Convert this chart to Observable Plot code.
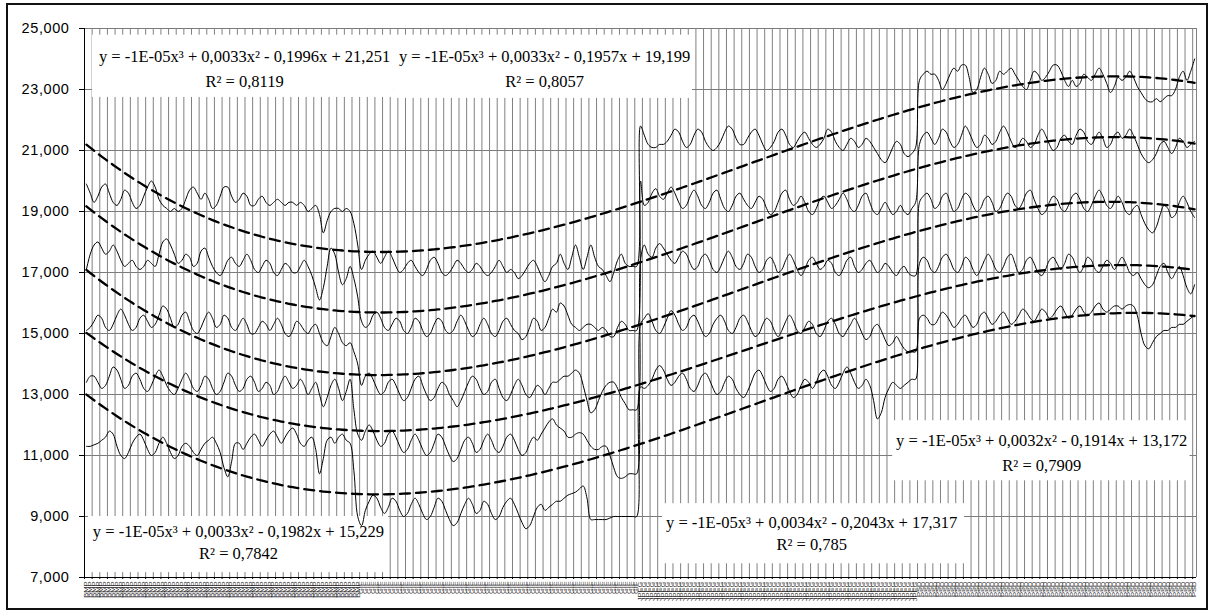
<!DOCTYPE html>
<html><head><meta charset="utf-8">
<script src="https://cdn.jsdelivr.net/npm/d3@7"></script>
<script src="https://cdn.jsdelivr.net/npm/@observablehq/plot@0.6"></script>
<style>
body{margin:0;background:#fff;}
#wrap{position:relative;width:1208px;height:612px;overflow:hidden;background:#fff;}
#wrap svg{position:absolute;left:0;top:0;}
#frame{position:absolute;left:6px;top:3px;width:1198px;height:603px;border:2px solid #111;pointer-events:none;}
</style></head><body><div id="wrap"><div id="frame"></div></div>
<script>
const formats = ["BMP","GIF","JPEG","PSD"];
const counts = [72,73,73,73];
const yTicks = [7,9,11,13,15,17,19,21,23,25];

// Series 1 (top)
const s1BMP = [19.9,19.6,19.3,19.5,19.8,19.9,19.6,19.3,19.2,19.4,19.7,19.6,19.3,19.1,19.2,19.5,19.8,20.0,19.8,19.4,19.2,19.1,19.0,19.1,19.0,19.1,19.4,19.7,19.8,19.6,19.4,19.6,19.4,19.1,19.2,19.5,19.8,19.8,19.5,19.3,19.4,19.6,19.5,19.2,19.2,19.4,19.5,19.3,19.2,19.3,19.4,19.3,19.2,19.3,19.3,19.2,19.3,19.2,19.0,19.1,19.2,18.9,18.3,18.7,19.0,19.1,19.1,19.0,19.1,19.0,18.6,17.9];
const s1GIF = [17.1,17.4,17.6,17.7,17.5,17.3,17.5,17.7,17.5,17.2,17.0,17.1,17.3,17.4,17.2,17.0,16.9,17.1,17.4,17.5,17.3,17.0,16.9,17.0,17.2,17.4,17.3,17.1,17.0,17.1,17.3,17.2,17.0,16.9,17.0,17.2,17.4,17.2,17.0,17.1,17.0,16.8,16.9,17.1,17.3,17.4,17.2,16.9,16.7,16.9,17.2,17.3,17.6,17.3,17.1,17.5,17.9,17.5,17.1,17.5,17.9,17.5,17.2,17.1,16.9,16.7,17.0,17.4,17.6,17.3,17.2,17.2,17.2];
const s1JPEG = [21.8,21.5,21.2,21.1,21.1,21.2,21.2,21.3,21.5,21.7,21.6,21.3,21.1,21.2,21.5,21.7,21.6,21.3,21.1,21.0,21.1,21.3,21.6,21.8,21.7,21.4,21.2,21.2,21.4,21.6,21.7,21.5,21.2,21.0,21.1,21.3,21.6,21.7,21.5,21.2,21.1,21.3,21.5,21.6,21.4,21.2,21.1,21.2,21.4,21.7,21.6,21.3,21.1,21.0,21.2,21.4,21.3,21.1,21.2,21.4,21.3,21.1,20.9,20.7,20.6,20.8,21.1,21.3,21.2,20.9,20.8,20.9,21.1];
const s1PSD = [23.3,23.5,23.6,23.5,23.5,23.3,23.0,23.2,23.5,23.7,23.6,23.8,23.8,23.4,22.9,23.0,23.4,23.7,23.5,23.2,23.3,23.6,23.5,23.6,23.7,23.5,23.3,23.1,23.0,23.3,23.6,23.5,23.3,23.4,23.6,23.8,23.8,23.6,23.3,23.1,23.3,23.1,23.2,23.5,23.4,23.3,23.5,23.7,23.5,23.2,22.9,23.1,23.4,23.3,23.4,23.6,23.4,23.1,22.9,22.7,22.6,22.6,22.7,22.6,22.7,22.8,22.8,23.0,23.4,23.6,23.3,23.6,24.0];

// Series 2
const s2BMP = [17.1,17.6,17.9,18.0,17.8,17.6,17.7,17.9,17.7,17.4,17.2,17.3,17.4,17.2,17.1,17.2,17.4,17.3,17.2,17.6,18.0,18.1,17.9,17.6,17.3,17.4,17.6,17.5,17.2,17.3,17.7,17.8,17.5,17.2,17.0,16.9,17.1,17.4,17.5,17.3,17.2,17.4,17.6,17.4,17.1,17.0,17.2,17.4,17.3,17.0,16.9,17.1,17.3,17.2,17.0,17.0,17.2,17.4,17.2,16.9,16.5,16.1,16.5,17.2,17.8,17.6,17.0,16.6,16.8,17.2,16.8,16.2];
const s2GIF = [15.4,15.2,15.3,15.6,15.7,15.5,15.2,15.1,15.3,15.5,15.4,15.1,15.0,15.2,15.5,15.4,15.1,14.9,15.0,15.3,15.5,15.4,15.1,15.0,15.1,15.4,15.6,15.4,15.1,14.9,15.0,15.3,15.5,15.3,15.0,14.9,15.1,15.4,15.5,15.3,15.1,15.0,14.8,14.9,15.2,15.5,15.4,15.1,15.2,15.5,15.8,15.7,16.0,15.9,15.6,15.3,15.2,15.1,15.2,15.3,15.3,15.2,15.1,15.2,15.1,14.9,14.9,15.2,15.4,15.3,15.1,15.1,15.1];
const s2JPEG = [20.0,19.2,19.3,19.6,19.75,19.5,19.4,19.6,19.8,19.6,19.3,19.1,19.2,19.5,19.7,19.5,19.2,19.1,19.3,19.6,19.7,19.4,19.1,19.0,19.2,19.5,19.6,19.4,19.2,19.1,19.3,19.5,19.4,19.1,18.9,19.0,19.3,19.6,19.7,19.4,19.2,19.3,19.5,19.3,19.0,18.9,19.1,19.4,19.5,19.3,19.1,19.2,19.4,19.6,19.4,19.1,19.0,19.2,19.5,19.6,19.3,19.0,18.9,19.1,19.3,19.1,18.9,19.0,19.2,19.0,18.9,19.1,19.3];
const s2PSD = [21.2,21.5,21.6,21.4,21.2,21.4,21.7,21.6,21.3,21.1,21.2,21.5,21.8,21.6,21.3,21.1,21.2,21.5,21.4,21.2,21.3,21.6,21.8,21.6,21.3,21.1,21.2,21.4,21.3,21.1,21.2,21.5,21.7,21.5,21.2,21.0,21.1,21.4,21.5,21.3,21.2,21.5,21.7,21.6,21.3,21.2,21.4,21.6,21.4,21.1,21.2,21.5,21.6,21.4,21.5,21.7,21.5,21.2,20.9,20.7,20.6,20.7,20.9,21.2,21.3,21.1,20.9,21.1,21.4,21.3,21.1,21.2,21.3];

// Series 3
const s3BMP = [15.1,15.2,15.4,15.6,15.5,15.2,15.1,15.3,15.6,15.8,15.6,15.3,15.1,15.2,15.5,15.6,15.4,15.2,15.3,15.6,15.9,15.8,15.5,15.2,15.3,15.6,15.7,15.4,15.1,15.0,15.2,15.5,15.7,15.5,15.2,15.3,15.6,15.5,15.2,15.1,15.3,15.5,15.3,15.0,15.0,15.2,15.4,15.3,15.1,15.3,15.5,15.3,15.0,14.9,15.1,15.4,15.3,15.1,15.0,15.2,15.3,15.0,14.7,14.6,14.9,15.2,15.0,14.7,14.6,14.7,14.4,14.0];
const s3GIF = [13.3,13.6,13.7,13.5,13.2,13.0,13.1,13.4,13.5,13.3,13.0,12.8,12.9,13.2,13.5,13.6,13.3,13.0,12.8,12.9,13.2,13.4,13.3,13.0,12.8,12.6,12.8,13.1,13.4,13.6,13.5,13.2,13.0,13.1,13.4,13.5,13.2,12.9,12.8,13.0,13.3,13.5,13.3,13.0,12.9,13.1,13.3,13.2,13.0,13.2,13.4,13.4,13.5,13.6,13.6,13.7,13.8,13.7,13.3,12.8,12.4,12.5,12.8,13.1,13.3,13.4,13.4,13.2,12.9,12.7,12.5,12.5,12.5];
const s3JPEG = [17.4,17.9,17.6,17.5,17.8,17.95,17.8,17.6,17.4,17.3,17.5,17.7,17.6,17.3,17.1,17.2,17.5,17.6,17.4,17.1,17.0,17.2,17.5,17.7,17.5,17.2,17.1,17.3,17.6,17.5,17.2,17.0,17.1,17.4,17.5,17.3,17.0,17.1,17.4,17.6,17.4,17.1,16.9,17.1,17.4,17.5,17.3,17.1,17.2,17.4,17.3,17.0,16.9,17.1,17.4,17.5,17.2,17.0,17.1,17.3,17.4,17.2,17.0,17.1,17.3,17.2,17.0,16.9,17.1,17.2,17.0,16.9,16.9];
const s3PSD = [19.3,19.5,19.6,19.4,19.1,19.2,19.5,19.6,19.3,19.0,19.1,19.4,19.6,19.5,19.2,19.0,19.1,19.4,19.5,19.3,19.0,19.1,19.4,19.6,19.5,19.2,19.1,19.3,19.6,19.7,19.4,19.1,18.9,19.0,19.3,19.5,19.4,19.1,19.0,19.2,19.5,19.6,19.4,19.1,19.0,19.2,19.5,19.7,19.5,19.2,19.1,19.3,19.5,19.3,19.0,18.9,19.1,19.2,18.9,18.6,18.4,18.3,18.5,18.9,19.2,19.1,18.8,18.9,19.3,19.5,19.3,19.0,18.8];

// Series 4
const s4BMP = [13.4,13.6,13.6,13.4,13.2,13.3,13.6,13.9,13.8,13.5,13.2,13.3,13.6,13.7,13.5,13.2,13.1,13.3,13.6,13.8,13.6,13.3,13.1,13.0,13.2,13.5,13.7,13.5,13.2,13.1,13.3,13.6,13.5,13.2,13.0,13.1,13.4,13.7,13.6,13.3,13.1,13.2,13.5,13.6,13.4,13.1,13.2,13.4,13.3,13.0,13.1,13.4,13.6,13.4,13.2,13.3,13.5,13.3,13.0,13.2,13.4,13.0,12.6,12.9,13.3,13.5,13.2,12.8,13.1,13.5,12.5,11.7];
const s4GIF = [11.5,11.8,12.0,11.8,11.5,11.3,11.4,11.7,11.8,11.6,11.3,11.1,11.2,11.5,11.7,11.5,11.2,11.0,11.1,11.4,11.7,11.6,11.3,11.0,10.8,10.9,11.2,11.5,11.6,11.4,11.1,11.2,11.5,11.7,11.5,11.2,11.1,11.3,11.6,11.7,11.5,11.2,11.0,11.1,11.4,11.6,11.5,11.7,11.9,12.1,12.2,12.0,11.9,11.8,11.6,11.6,11.7,11.75,11.7,11.5,11.3,11.2,11.2,11.3,11.3,11.0,10.6,10.3,10.25,10.3,10.4,10.4,10.4];
const s4JPEG = [15.3,15.5,15.65,15.4,15.1,15.0,15.2,15.5,15.75,15.6,15.3,15.1,15.2,15.5,15.6,15.4,15.1,14.9,15.0,15.3,15.5,15.6,15.4,15.1,15.0,15.2,15.5,15.6,15.4,15.1,14.9,15.0,15.3,15.5,15.4,15.1,14.9,15.1,15.4,15.6,15.4,15.1,15.0,15.2,15.4,15.3,15.0,14.9,15.1,15.4,15.5,15.3,15.0,14.9,15.1,15.3,15.5,15.3,15.0,14.8,14.9,15.2,15.3,15.1,14.8,14.6,14.7,14.9,14.7,14.5,14.4,14.4,14.4];
const s4PSD = [17.3,17.5,17.4,17.1,17.0,17.2,17.5,17.6,17.4,17.1,17.0,17.2,17.5,17.4,17.1,16.9,17.1,17.4,17.6,17.4,17.1,17.0,17.2,17.5,17.6,17.3,17.0,17.1,17.4,17.5,17.3,17.0,16.9,17.1,17.4,17.5,17.3,17.1,17.3,17.6,17.5,17.2,17.0,17.2,17.5,17.4,17.1,17.0,17.2,17.4,17.3,17.1,17.3,17.5,17.3,17.0,16.9,17.0,16.8,16.6,16.5,16.6,16.9,17.2,17.3,17.0,16.8,17.0,17.2,16.9,16.5,16.3,16.6];

// Series 5 (bottom)
const s5BMP = [11.3,11.3,11.35,11.4,11.5,11.6,11.8,11.7,11.3,11.0,10.9,11.1,11.4,11.6,11.7,11.5,11.2,11.0,11.1,11.4,11.6,11.4,11.1,10.9,11.0,11.3,11.4,11.3,11.1,11.0,11.2,11.4,11.5,11.6,11.4,11.1,10.6,10.3,10.8,11.4,11.4,11.2,11.4,11.6,11.7,11.5,11.3,11.5,11.7,11.8,11.6,11.4,11.6,11.8,11.9,11.7,11.4,11.3,11.5,11.6,11.2,10.4,10.9,11.5,11.6,11.4,11.6,11.7,11.5,11.4,10.5,9.0];
const s5GIF = [8.7,9.2,9.5,9.7,9.6,9.3,9.1,9.3,9.6,9.5,9.2,9.0,9.1,9.4,9.6,9.4,9.1,8.9,9.0,9.3,9.6,9.5,9.2,8.9,8.7,8.8,9.1,9.4,9.6,9.4,9.1,9.2,9.5,9.4,9.1,8.9,9.0,9.3,9.5,9.6,9.4,9.1,8.8,8.6,8.7,9.0,9.3,9.4,9.2,9.3,9.4,9.5,9.5,9.6,9.7,9.75,9.8,9.9,10.0,9.6,8.9,8.9,8.9,8.9,8.9,8.95,9.0,9.0,9.0,9.0,9.0,9.0,9.0];
const s5JPEG = [13.25,13.2,13.3,13.5,13.8,13.95,13.8,13.5,13.3,13.4,13.6,13.7,13.5,13.2,13.1,13.3,13.6,13.7,13.5,13.2,13.0,13.1,13.4,13.6,13.5,13.2,13.0,12.9,13.1,13.4,13.7,13.8,13.6,13.3,13.1,13.2,13.5,13.6,13.4,13.1,12.9,13.0,13.3,13.5,13.4,13.2,13.4,13.7,13.8,13.6,13.3,13.2,13.4,13.7,13.9,13.7,13.4,13.2,13.3,13.5,13.3,12.8,12.2,12.4,12.9,13.2,13.4,13.3,13.2,13.3,13.4,13.5,13.5];
const s5PSD = [15.5,15.6,15.5,15.3,15.3,15.5,15.7,15.6,15.4,15.2,15.3,15.5,15.6,15.4,15.2,15.3,15.6,15.7,15.5,15.3,15.4,15.6,15.7,15.5,15.3,15.4,15.6,15.8,15.7,15.5,15.4,15.6,15.8,15.7,15.5,15.6,15.8,15.9,15.7,15.5,15.6,15.8,15.9,15.7,15.6,15.7,15.9,16.0,15.8,15.7,15.8,15.9,15.9,15.8,15.9,15.95,15.9,15.6,15.0,14.6,14.5,14.7,14.9,15.0,15.1,15.1,15.2,15.2,15.3,15.3,15.4,15.5,15.6];

const equations = [
  {line1:"y = -1E-05x³ + 0,0033x² - 0,1996x + 21,251", line2:"R² = 0,8119", x1:2.1, x2:80.9, y1:22.74, y2:24.78, tx:41.9, ty1:24.06, ty2:23.24},
  {line1:"y = -1E-05x³ + 0,0033x² - 0,1957x + 19,199", line2:"R² = 0,8057", x1:80.9, x2:159.1, y1:22.71, y2:24.78, tx:120.4, ty1:24.06, ty2:23.24},
  {line1:"y = -1E-05x³ + 0,0033x² - 0,1982x + 15,229", line2:"R² = 0,7842", x1:1.05, x2:79.6, y1:7.16, y2:9.0, tx:40.3, ty1:8.50, ty2:7.78},
  {line1:"y = -1E-05x³ + 0,0034x² - 0,2043x + 17,317", line2:"R² = 0,785", x1:151.3, x2:230.3, y1:7.45, y2:9.42, tx:190.3, ty1:8.79, ty2:8.07},
  {line1:"y = -1E-05x³ + 0,0032x² - 0,1914x + 13,172", line2:"R² = 0,7909", x1:211.5, x2:289.3, y1:10.17, y2:12.14, tx:250.5, ty1:11.48, ty2:10.66}
];

// ---- build
const labels = formats.flatMap((f,k)=>Array(counts[k]).fill(f));
const N = labels.length;
const seriesList = [
  [...s1BMP,...s1GIF,...s1JPEG,...s1PSD],
  [...s2BMP,...s2GIF,...s2JPEG,...s2PSD],
  [...s3BMP,...s3GIF,...s3JPEG,...s3PSD],
  [...s4BMP,...s4GIF,...s4JPEG,...s4PSD],
  [...s5BMP,...s5GIF,...s5JPEG,...s5PSD]
];
function cubicFit(ys){
  const sc = ys.length;
  const S = new Array(7).fill(0), T = new Array(4).fill(0);
  ys.forEach((y,i)=>{const t=(i+1)/sc; let p=1; for(let k=0;k<7;k++){S[k]+=p; if(k<4) T[k]+=p*y; p*=t;}});
  const A=[0,1,2,3].map(r=>[0,1,2,3].map(c=>S[r+c]).concat([T[r]]));
  for(let c=0;c<4;c++){
    let piv=c; for(let r=c+1;r<4;r++) if(Math.abs(A[r][c])>Math.abs(A[piv][c])) piv=r;
    [A[c],A[piv]]=[A[piv],A[c]];
    for(let r=0;r<4;r++){ if(r===c) continue; const f=A[r][c]/A[c][c]; for(let k=c;k<5;k++) A[r][k]-=f*A[c][k]; }
  }
  const co=A.map((row,i)=>row[4]/row[i]);
  return ys.map((_,i)=>{const t=(i+1)/sc; return co[0]+co[1]*t+co[2]*t*t+co[3]*t*t*t;});
}
const rows=[], trendRows=[];
seriesList.forEach((vals,s)=>{
  vals.forEach((v,i)=>rows.push({s, x:i+0.5, v}));
  cubicFit(vals).forEach((v,i)=>trendRows.push({s, x:i+0.5, v}));
});

const serif = "'Liberation Serif','Times New Roman',serif";
const chart = Plot.plot({
  width:1208, height:612,
  marginLeft:84, marginRight:12, marginTop:28, marginBottom:35,
  x:{type:"linear", domain:[0,N], axis:null},
  y:{domain:[7,25], axis:null},
  style:{fontFamily:"'Liberation Sans', Arial, sans-serif", background:"transparent", color:"#000"},
  marks:[
    Plot.ruleY(yTicks,{stroke:"#7a7a7a", strokeWidth:1}),
    Plot.ruleX(d3.range(0,N+1,2),{stroke:"#808080", strokeWidth:1}),
    Plot.rect(equations,{x1:"x1",x2:"x2",y1:"y1",y2:"y2",fill:"white"}),
    Plot.line(rows,{x:"x",y:"v",z:"s",stroke:"#000",strokeWidth:1,curve:"catmull-rom"}),
    Plot.line(trendRows,{x:"x",y:"v",z:"s",stroke:"#000",strokeWidth:2.3,strokeDasharray:"10,6"}),
    Plot.text(equations,{x:"tx",y:"ty1",text:"line1",fontFamily:serif,fontSize:16.5,fill:"#000"}),
    Plot.text(equations,{x:"tx",y:"ty2",text:"line2",fontFamily:serif,fontSize:16.5,fill:"#000"}),
    Plot.ruleX([N],{stroke:"#808080"}),
    Plot.ruleX([0],{stroke:"#000"}),
    Plot.ruleY([7],{stroke:"#000"}),
    Plot.axisY({ticks:yTicks, tickFormat:d=>d.toFixed(3).replace(".",","), tickSize:5, tickPadding:10, fontSize:14.5}),
    Plot.axisX({ticks:d3.range(0,N+1,2), tickFormat:()=>"", tickSize:2}),
    Plot.axisX({ticks:d3.range(N).map(i=>i+0.5), tickFormat:d=>labels[Math.floor(d)], tickSize:0, tickRotate:-90, tickPadding:4, fontSize:5.6, fill:"#222"})
  ]
});
document.getElementById("wrap").prepend(chart);
chart.querySelectorAll('g[aria-label="x-axis tick label"] text').forEach(t=>{
  const tr=t.getAttribute("transform");
  if(tr && tr.includes("rotate")) t.setAttribute("transform", tr+" scale(1.35,1)");
});
chart.querySelectorAll('g[aria-label="y-axis tick label"] text').forEach(t=>t.setAttribute("letter-spacing","0.6"));
</script>
</body></html>
